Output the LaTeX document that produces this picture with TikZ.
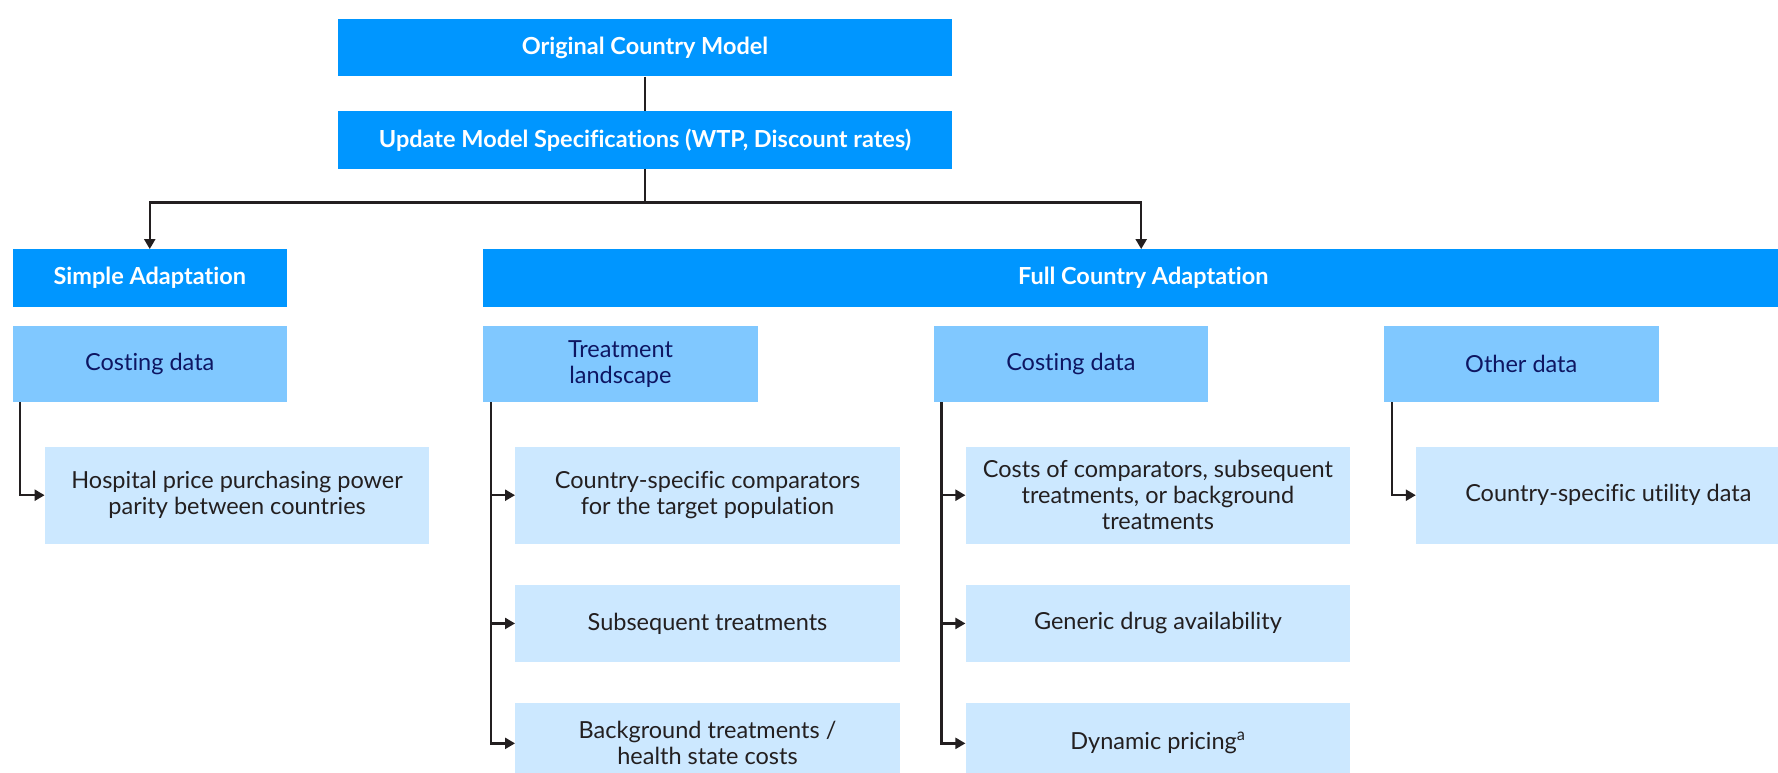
\documentclass[tikz,border=0pt]{standalone}
\usepackage{fontspec}
\setmainfont{Lato}[Ligatures={NoCommon,NoRare,NoDiscretionary}]
\usetikzlibrary{positioning,arrows.meta}

\definecolor{topblue}{RGB}{0,150,255}
\definecolor{midblue}{RGB}{128,200,255}
\definecolor{lightblue}{RGB}{204,232,255}
\definecolor{navy}{RGB}{14,22,98}
\definecolor{ink}{RGB}{35,31,32}

\tikzset{
  topbox/.style={fill=topblue, text=white, font=\fontsize{23.5}{27}\selectfont\bfseries,
    minimum height=57.5pt, inner sep=0pt},
  groupbox/.style={fill=midblue, text=navy, font=\fontsize{23.5}{26}\selectfont,
    minimum width=274.5pt, minimum height=76.5pt, align=center, inner sep=0pt},
  leafbox/.style={fill=lightblue, text=ink, font=\fontsize{23.5}{26}\selectfont,
    minimum width=384.6pt, minimum height=96.7pt, align=center, inner sep=0pt},
  link/.style={draw=ink, line width=2.3pt},
  tip/.style={-{Triangle[width=11pt,length=10pt]}}
}

\begin{document}
\begin{tikzpicture}[x=1pt, y=1pt, node distance=41pt]
  \useasboundingbox[fill=white] (0,0) rectangle (1778,-773);

  % top of the tree
  \node[topbox, minimum width=614pt] (orig) at (645,-47.75) {Original Country Model};
  \node[topbox, minimum width=614pt, below=34.3pt of orig] (spec) {Update Model Specifications (WTP, Discount rates)};

  \node[topbox, minimum width=274.5pt] (simple) at (149.75,-278) {Simple Adaptation};
  \node[topbox, minimum width=1320pt, anchor=west] (full) at (483,-278) {Full Country Adaptation};

  % data groups
  \node[groupbox, below=18.5pt of simple] (costA) {Costing data};
  \node[groupbox, below=18.5pt of full.south west, anchor=north west] (treat) {Treatment\\landscape};
  \node[groupbox, right=175.5pt of treat] (costB) {Costing data};
  \node[groupbox, right=175.5pt of costB] (other) {Other data};

  % leaves
  \node[leafbox, below right=44.3pt and 32.3pt of costA.south west, anchor=north west] (hosp) {Hospital price purchasing power\\parity between countries};

  \node[leafbox, below right=44.3pt and 32pt of treat.south west, anchor=north west] (comp) {Country-specific comparators\\for the target population};
  \node[leafbox, minimum height=77pt, below=of comp] (subs) {Subsequent treatments};
  \node[leafbox, minimum height=80pt, below=of subs] (back) {Background treatments /\\health state costs};

  \node[leafbox, below right=44.3pt and 32pt of costB.south west, anchor=north west] (costs) {Costs of comparators, subsequent\\treatments, or background\\treatments};
  \node[leafbox, minimum height=77pt, below=of costs] (gen) {Generic drug availability};
  \node[leafbox, minimum height=80pt, below=of gen] (dyn) {Dynamic pricing\textsuperscript{a}};

  \node[leafbox, below right=44.3pt and 32pt of other.south west, anchor=north west] (util) {Country-specific utility data};

  \path[link] (orig) -- (spec);
  \path[link, tip] (spec.south) -- ++(0,-33.5) -| (simple.north);
  \path[link, tip] (spec.south) -- ++(0,-33.5) -| ([xshift=-2pt]full.north);

  \path[link, tip] ([xshift=8pt]costA.south west) |- (hosp.west);
  \path[link, tip] ([xshift=8pt]treat.south west) |- (comp.west);
  \path[link, tip] ([xshift=8pt]treat.south west) |- (subs.west);
  \path[link, tip] ([xshift=8pt]treat.south west) |- (back.west);
  \path[link, tip] ([xshift=8pt]costB.south west) |- (costs.west);
  \path[link, tip] ([xshift=8pt]costB.south west) |- (gen.west);
  \path[link, tip] ([xshift=8pt]costB.south west) |- (dyn.west);
  \path[link, tip] ([xshift=8pt]other.south west) |- (util.west);
\end{tikzpicture}
\end{document}
